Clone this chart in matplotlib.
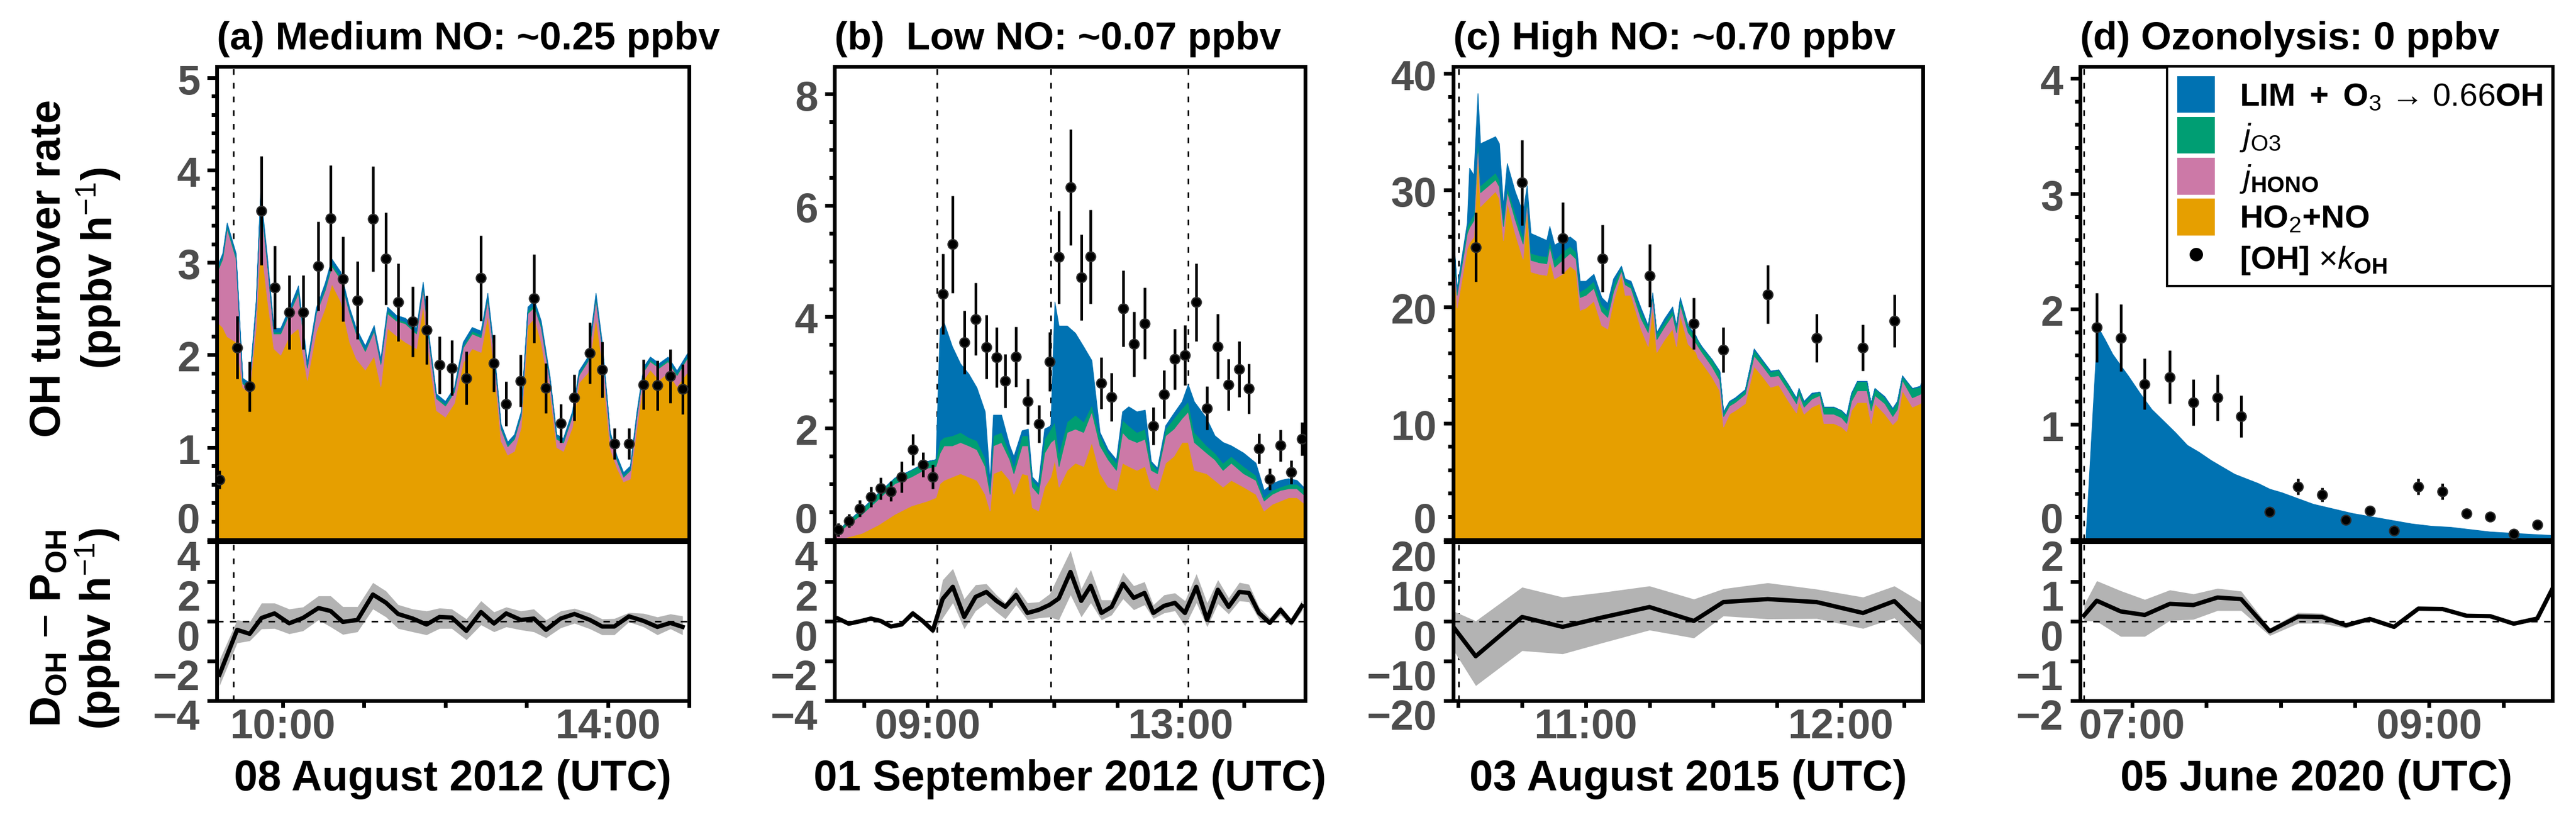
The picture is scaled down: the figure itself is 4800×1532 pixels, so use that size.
import matplotlib
matplotlib.use("Agg")
import matplotlib.pyplot as plt
import matplotlib.transforms as mtransforms
from matplotlib.patches import Patch
from matplotlib.lines import Line2D
from matplotlib.ticker import MultipleLocator

plt.rcParams['font.family'] = ['Liberation Sans', 'DejaVu Sans']
plt.rcParams['mathtext.fontset'] = 'custom'
plt.rcParams['mathtext.rm'] = 'Liberation Sans'
plt.rcParams['mathtext.bf'] = 'Liberation Sans:bold'
plt.rcParams['mathtext.it'] = 'Liberation Sans:italic'
plt.rcParams['mathtext.sf'] = 'Liberation Sans'

# ---------------------------------------------------------------- data
# times are decimal hours (UTC)

# ---- (a) Medium NO, 08 August 2012
a_t_area = [9.19, 9.26, 9.315, 9.425, 9.507, 9.589, 9.671, 9.726, 9.808, 9.89, 9.973, 10.082, 10.192,
            10.301, 10.411, 10.521, 10.603, 10.712, 10.822, 10.904, 11.014, 11.123, 11.205, 11.288,
            11.397, 11.507, 11.644, 11.726, 11.808, 11.89, 12.0, 12.11, 12.219, 12.329, 12.438,
            12.521, 12.603, 12.685, 12.767, 12.849, 12.932, 13.014, 13.096, 13.178, 13.288, 13.37,
            13.452, 13.562, 13.644, 13.753, 13.852, 13.929, 14.027, 14.11, 14.192, 14.274, 14.356,
            14.438, 14.521, 14.63, 14.74, 14.849, 15.0]
a_ho2no = [2.36, 2.3, 2.2, 2.14, 1.65, 1.59, 2.3, 3.25, 2.62, 2.07, 2.0, 2.21, 2.29, 1.73, 2.25, 2.51,
           2.77, 2.58, 2.14, 1.96, 1.84, 1.99, 1.66, 2.29, 2.21, 2.14, 2.07, 2.54, 1.92, 1.4, 1.33,
           1.48, 1.92, 2.07, 2.03, 2.43, 1.84, 1.07, 0.92, 0.96, 1.22, 2.32, 2.4, 2.14, 1.59, 1.0,
           0.96, 1.22, 1.7, 1.81, 2.4, 1.92, 0.99, 0.78, 0.63, 0.66, 1.22, 1.73, 1.84, 1.73, 1.81,
           1.66, 1.84]
a_jhono = [0.53, 0.74, 1.17, 0.9, 0.04, 0.05, 0.22, 0.43, 0.38, 0.16, 0.23, 0.24, 0.38, 0.13, 0.2,
           0.19, 0.19, 0.24, 0.31, 0.27, 0.2, 0.27, 0.24, 0.16, 0.16, 0.2, 0.16, 0.18, 0.16, 0.13,
           0.12, 0.12, 0.16, 0.16, 0.16, 0.17, 0.13, 0.13, 0.09, 0.13, 0.12, 0.13, 0.12, 0.16, 0.12,
           0.09, 0.09, 0.12, 0.08, 0.12, 0.2, 0.16, 0.13, 0.08, 0.05, 0.09, 0.12, 0.09, 0.09, 0.13,
           0.12, 0.12, 0.16]
a_jo3 = [0.03, 0.03, 0.03, 0.03, 0.02, 0.02, 0.02, 0.03, 0.03, 0.02, 0.02, 0.02, 0.03, 0.02, 0.02,
         0.03, 0.03, 0.03, 0.02, 0.02, 0.02, 0.02, 0.02, 0.03, 0.02, 0.02, 0.02, 0.03, 0.02, 0.02,
         0.02, 0.02, 0.02, 0.03, 0.03, 0.03, 0.02, 0.02, 0.02, 0.02, 0.02, 0.03, 0.03, 0.03, 0.02,
         0.02, 0.02, 0.02, 0.02, 0.02, 0.03, 0.02, 0.02, 0.02, 0.02, 0.02, 0.02, 0.02, 0.02, 0.02,
         0.02, 0.02, 0.02]
a_lim = [0.03, 0.03, 0.03, 0.03, 0.04, 0.04, 0.04, 0.06, 0.05, 0.04, 0.04, 0.04, 0.05, 0.04, 0.04,
         0.05, 0.05, 0.05, 0.04, 0.04, 0.04, 0.04, 0.04, 0.04, 0.04, 0.04, 0.04, 0.04, 0.04, 0.03,
         0.03, 0.03, 0.04, 0.04, 0.04, 0.04, 0.04, 0.03, 0.03, 0.03, 0.03, 0.04, 0.04, 0.04, 0.03,
         0.03, 0.03, 0.03, 0.03, 0.03, 0.04, 0.04, 0.03, 0.03, 0.03, 0.03, 0.03, 0.03, 0.03, 0.03,
         0.03, 0.03, 0.03]
a_t_pts = [9.222, 9.44, 9.595, 9.74, 9.90, 10.08, 10.25, 10.44, 10.59, 10.74, 10.92, 11.11, 11.27,
           11.42, 11.6, 11.77, 11.93, 12.08, 12.26, 12.44, 12.6, 12.75, 12.93, 13.09, 13.24, 13.42,
           13.59, 13.78, 13.93, 14.08, 14.26, 14.44, 14.61, 14.77, 14.92]
a_oh = [0.65, 2.08, 1.66, 3.56, 2.73, 2.46, 2.46, 2.96, 3.48, 2.82, 2.59, 3.47, 3.04, 2.57, 2.36,
        2.27, 1.89, 1.86, 1.75, 2.83, 1.91, 1.47, 1.72, 2.61, 1.64, 1.26, 1.54, 2.02, 1.84, 1.04,
        1.04, 1.68, 1.67, 1.77, 1.63]
a_oh_err = [0.1, 0.34, 0.27, 0.59, 0.45, 0.4, 0.4, 0.48, 0.57, 0.46, 0.42, 0.57, 0.5, 0.42, 0.38,
            0.37, 0.31, 0.3, 0.29, 0.46, 0.31, 0.24, 0.28, 0.48, 0.27, 0.21, 0.25, 0.33, 0.3, 0.17,
            0.17, 0.27, 0.27, 0.29, 0.27]
a_t_dp = a_t_pts
a_dp = [-2.69, -0.43, -0.63, 0.17, 0.4, -0.1, 0.17, 0.67, 0.52, -0.03, 0.07, 1.35, 0.94, 0.37, 0.14,
        -0.16, 0.22, 0.19, -0.48, 0.47, -0.11, 0.4, 0.07, 0.14, -0.43, 0.14, 0.37, 0.07, -0.26,
        -0.26, 0.25, 0.02, -0.28, -0.08, -0.28]
a_dp_hi = [-1.94, 0.07, -0.03, 0.92, 0.92, 0.62, 0.72, 1.28, 1.28, 0.74, 0.74, 1.95, 1.53, 0.84,
           0.62, 0.52, 0.67, 0.62, 0.12, 1.03, 0.47, 0.72, 0.52, 0.62, 0.07, 0.52, 0.65, 0.42, 0.12,
           0.14, 0.44, 0.4, 0.22, 0.37, 0.27]
a_dp_lo = [-3.25, -1.09, -0.98, -0.38, -0.36, -0.63, -0.48, 0.07, -0.28, -0.66, -0.53, 0.62, 0.22,
           -0.36, -0.53, -0.68, -0.36, -0.36, -0.93, -0.18, -0.53, -0.28, -0.43, -0.53, -0.83,
           -0.33, -0.1, -0.38, -0.68, -0.68, -0.03, -0.28, -0.68, -0.38, -0.68]
a_vlines = [9.397]

# ---- (b) Low NO, 01 September 2012
b_t_area = [7.528, 7.703, 7.962, 8.222, 8.481, 8.741, 9.0, 9.13, 9.195, 9.259, 9.389, 9.519, 9.649,
            9.778, 9.908, 9.986, 10.038, 10.167, 10.297, 10.362, 10.492, 10.589, 10.654, 10.751,
            10.848, 10.946, 11.01, 11.075, 11.205, 11.335, 11.464, 11.594, 11.724, 11.853, 11.983,
            12.08, 12.178, 12.307, 12.437, 12.534, 12.632, 12.761, 12.891, 13.021, 13.118, 13.215,
            13.41, 13.54, 13.669, 13.799, 13.994, 14.188, 14.318, 14.447, 14.577, 14.707, 14.837,
            14.966]
b_ho2no = [0.02, 0.04, 0.12, 0.27, 0.46, 0.61, 0.70, 0.76, 1.01, 1.07, 1.13, 1.19, 1.13, 1.07, 0.82,
           0.52, 1.19, 1.25, 1.07, 0.82, 1.19, 1.16, 0.58, 0.52, 0.95, 1.13, 1.44, 0.95, 1.25, 1.38,
           1.32, 1.75, 1.19, 0.95, 0.89, 1.38, 1.32, 1.25, 1.32, 0.95, 0.89, 1.38, 1.50, 1.75, 1.75,
           1.25, 1.19, 1.07, 0.95, 1.07, 0.95, 0.82, 0.52, 0.64, 0.70, 0.76, 0.76, 0.64]
b_jhono = [0.04, 0.20, 0.34, 0.46, 0.55, 0.52, 0.59, 0.56, 0.55, 0.62, 0.56, 0.56, 0.56, 0.55, 0.50,
           0.30, 0.50, 0.50, 0.37, 0.37, 0.50, 0.53, 0.37, 0.30, 0.61, 0.62, 0.37, 0.37, 0.68, 0.61,
           0.61, 0.55, 0.50, 0.49, 0.36, 0.55, 0.49, 0.50, 0.49, 0.30, 0.30, 0.49, 0.49, 0.43, 0.55,
           0.50, 0.37, 0.37, 0.30, 0.31, 0.24, 0.25, 0.18, 0.18, 0.19, 0.16, 0.16, 0.15]
b_jo3 = [0.03, 0.06, 0.09, 0.11, 0.10, 0.12, 0.12, 0.12, 0.22, 0.15, 0.18, 0.18, 0.15, 0.16, 0.15,
         0.13, 0.18, 0.18, 0.12, 0.13, 0.18, 0.18, 0.12, 0.13, 0.25, 0.24, 0.31, 0.24, 0.19, 0.25,
         0.19, 0.12, 0.18, 0.12, 0.13, 0.22, 0.24, 0.18, 0.18, 0.13, 0.06, 0.12, 0.19, 0.18, 0.18,
         0.18, 0.13, 0.12, 0.13, 0.12, 0.13, 0.09, 0.06, 0.07, 0.06, 0.08, 0.08, 0.10]
b_lim = [0.0, 0.0, 0.0, 0.0, 0.0, 0.0, 0.0, 0.0, 2.00, 2.06, 1.60, 1.23, 1.14, 0.95, 0.83, 0.12, 0.37,
         0.31, 0.13, 0.18, 0.09, 0.12, 0.06, 0.06, 0.18, 0.06, 2.15, 2.28, 1.72, 1.47, 1.35, 0.80,
         0.06, 0.06, 0.06, 0.15, 0.34, 0.37, 0.34, 0.03, 0.04, 0.06, 0.09, 0.12, 0.31, 0.55, 0.49,
         0.31, 0.37, 0.19, 0.24, 0.22, 0.13, 0.12, 0.12, 0.10, 0.07, 0.03]
b_t_pts = [7.586, 7.755, 7.93, 8.105, 8.26, 8.42, 8.59, 8.767, 8.93, 9.084, 9.24, 9.40, 9.58, 9.76,
           9.93, 10.09, 10.23, 10.4, 10.58, 10.76, 10.93, 11.075, 11.26, 11.43, 11.58, 11.75, 11.91,
           12.09, 12.26, 12.43, 12.57, 12.74, 12.91, 13.07, 13.25, 13.42, 13.59, 13.76, 13.93, 14.08,
           14.24, 14.41, 14.58, 14.75, 14.92]
b_oh = [0.18, 0.34, 0.56, 0.77, 0.92, 0.87, 1.13, 1.62, 1.35, 1.13, 4.41, 5.3, 3.54, 3.96, 3.46,
        3.27, 2.85, 3.28, 2.48, 2.08, 3.2, 5.07, 6.32, 4.71, 5.08, 2.81, 2.56, 4.15, 3.51, 3.88, 2.04,
        2.61, 3.24, 3.31, 4.26, 2.36, 3.47, 2.78, 3.06, 2.71, 1.64, 1.09, 1.69, 1.21, 1.81]
b_oh_err = [0.12, 0.12, 0.15, 0.18, 0.2, 0.18, 0.28, 0.28, 0.22, 0.22, 0.72, 0.87, 0.57, 0.65, 0.57,
            0.54, 0.48, 0.54, 0.41, 0.34, 0.53, 0.83, 1.04, 0.77, 0.84, 0.46, 0.43, 0.68, 0.58, 0.64,
            0.34, 0.43, 0.54, 0.54, 0.7, 0.39, 0.58, 0.46, 0.5, 0.45, 0.27, 0.19, 0.28, 0.21, 0.3]
b_t_dp = b_t_pts
b_dp = [0.14, -0.12, 0.0, 0.14, 0.02, -0.26, -0.16, 0.4, 0.0, -0.46, 1.13, 1.74, 0.22, 1.23, 1.48,
        1.03, 0.73, 1.33, 0.42, 0.58, 0.83, 1.15, 2.49, 1.03, 1.79, 0.42, 0.73, 1.89, 1.18, 1.43,
        0.42, 0.78, 0.93, 0.42, 1.74, 0.07, 1.59, 0.73, 1.48, 1.43, 0.42, -0.08, 0.58, -0.06, 0.78]
b_dp_hi = [0.2, -0.05, 0.07, 0.2, 0.1, -0.16, -0.06, 0.55, 0.12, -0.3, 2.09, 2.65, 1.13, 1.84, 1.89,
           1.33, 0.93, 1.74, 0.93, 0.98, 1.38, 2.34, 3.56, 1.64, 2.6, 1.08, 1.08, 2.46, 1.79, 1.99,
           0.83, 1.33, 1.43, 1.03, 2.39, 0.93, 2.09, 1.18, 1.96, 1.86, 0.73, 0.17, 0.78, 0.12, 1.08]
b_dp_lo = [0.08, -0.2, -0.07, 0.07, -0.06, -0.36, -0.26, 0.25, -0.12, -0.62, 0.17, 0.93, -0.38, 0.53,
           0.93, 0.47, 0.12, 0.83, 0.07, 0.17, 0.22, 0.07, 1.33, 0.22, 0.93, 0.07, 0.32, 1.13, 0.58,
           0.83, 0.14, 0.42, 0.53, -0.23, 0.93, -0.28, 0.88, 0.37, 1.03, 0.98, 0.12, -0.18, 0.32,
           -0.23, 0.53]
b_vlines = [9.149, 10.946, 13.118]

# ---- (c) High NO, 03 August 2015
c_t_area = [10.48, 10.494, 10.534, 10.543, 10.56, 10.576, 10.586, 10.645, 10.66, 10.676, 10.691,
            10.722, 10.753, 10.769, 10.784, 10.815, 10.846, 10.858, 10.877, 10.907, 10.938, 10.961,
            10.977, 11.0, 11.031, 11.062, 11.085, 11.108, 11.139, 11.154, 11.177, 11.216, 11.244,
            11.262, 11.278, 11.309, 11.34, 11.355, 11.37, 11.401, 11.432, 11.44, 11.455, 11.494,
            11.525, 11.54, 11.563, 11.586, 11.625, 11.66, 11.694, 11.725, 11.756, 11.795, 11.826,
            11.836, 11.856, 11.887, 11.918, 11.934, 11.972, 12.003, 12.023, 12.042, 12.065, 12.103,
            12.119, 12.134, 12.173, 12.204, 12.222, 12.242, 12.281, 12.312, 12.323]
c_ho2no = [25.0, 19.9, 25.0, 25.5, 26.0, 33.0, 28.6, 29.9, 29.3, 25.7, 29.0, 26.3, 24.1, 28.4, 23.0,
           22.8, 22.7, 24.0, 22.4, 22.8, 23.5, 23.1, 19.7, 19.9, 20.5, 18.4, 18.1, 20.5, 22.8, 21.0,
           21.0, 18.1, 16.6, 19.9, 16.1, 17.2, 18.1, 16.6, 19.3, 16.8, 16.1, 15.6, 15.2, 14.0, 12.8,
           9.7, 10.8, 11.1, 11.7, 14.9, 14.0, 13.1, 13.3, 11.9, 10.9, 11.9, 10.8, 11.4, 11.7, 10.0,
           10.0, 9.7, 9.3, 11.1, 11.8, 11.8, 10.0, 11.7, 10.8, 9.9, 10.3, 12.8, 11.4, 11.7, 12.2]
c_jhono = [1.0, 1.1, 1.3, 1.3, 1.4, 1.0, 1.2, 1.0, 1.0, 1.2, 0.9, 1.2, 1.3, 0.6, 1.0, 1.0, 1.0, 1.2,
           1.0, 1.2, 1.1, 1.0, 1.1, 1.1, 1.1, 1.2, 1.0, 0.8, 0.3, 0.9, 0.6, 0.9, 1.2, 0.9, 1.1, 1.1,
           1.2, 1.2, 0.9, 1.0, 0.8, 1.0, 0.9, 0.9, 0.9, 0.9, 0.7, 0.7, 0.8, 0.9, 0.9, 0.9, 0.8, 0.9,
           0.8, 0.6, 0.6, 0.7, 0.7, 0.8, 0.8, 0.8, 0.7, 0.8, 1.0, 1.0, 1.1, 0.7, 0.9, 0.7, 0.9, 0.9,
           0.8, 0.8, 0.8]
c_jo3 = [0.4, 0.3, 0.6, 0.5, 0.5, 0.6, 0.6, 0.6, 0.6, 0.6, 0.4, 0.6, 0.6, 0.3, 0.6, 0.6, 0.6, 0.5,
         0.6, 0.7, 0.6, 0.6, 0.5, 0.6, 0.6, 0.6, 0.6, 0.6, 0.3, 0.3, 0.3, 0.6, 0.5, 0.2, 0.5, 0.4,
         0.4, 0.5, 0.4, 0.5, 0.5, 0.5, 0.4, 0.6, 0.7, 0.3, 0.3, 0.3, 0.3, 0.5, 0.4, 0.4, 0.5, 0.5,
         0.4, 0.5, 0.4, 0.4, 0.3, 0.6, 0.6, 0.6, 0.6, 0.6, 0.8, 0.8, 0.6, 0.6, 0.5, 0.6, 0.6, 0.3,
         0.8, 0.6, 0.9]
c_lim = [0.2, 0.3, 0.3, 4.6, 3.4, 3.7, 3.6, 3.1, 3.1, 1.2, 2.0, 1.8, 2.1, 1.1, 1.7, 1.6, 1.4, 1.2,
         1.3, 1.0, 0.8, 0.9, 0.9, 0.6, 0.6, 0.6, 0.6, 0.5, 0.1, 0.2, 0.3, 0.3, 0.1, 0.2, 0.1, 0.3,
         0.3, 0.1, 0.2, 0.1, 0.1, 0.0, 0.1, 0.0, 0.1, 0.1, 0.1, 0.1, 0.1, 0.1, 0.1, 0.1, 0.0, 0.0,
         0.1, 0.0, 0.1, 0.1, 0.0, 0.0, 0.0, 0.0, 0.1, 0.1, 0.0, 0.0, 0.0, 0.0, 0.1, 0.1, 0.1, 0.1,
         0.0, 0.1, 0.0]
c_t_pts = [10.568, 10.75, 10.909, 11.066, 11.25, 11.424, 11.54, 11.714, 11.906, 12.088, 12.211]
c_oh = [25.1, 30.64, 25.89, 24.13, 22.66, 18.55, 16.29, 21.05, 17.32, 16.5, 18.78]
c_oh_err = [2.98, 3.67, 3.08, 2.88, 2.7, 2.23, 1.95, 2.5, 2.07, 1.98, 2.25]
c_t_dp = [10.48, 10.568, 10.75, 10.909, 11.066, 11.25, 11.424, 11.54, 11.714, 11.906, 12.088, 12.211,
          12.323]
c_dp = [-1.4, -8.8, 1.1, -1.4, 1.0, 3.6, 0.1, 4.85, 5.6, 4.85, 2.1, 5.1, -1.9]
c_dp_hi = [2.6, 0.1, 8.6, 6.1, 7.3, 8.9, 5.6, 8.2, 9.7, 8.1, 6.1, 8.9, 4.6]
c_dp_lo = [-7.2, -16.2, -7.4, -8.2, -5.4, -2.2, -4.2, 1.35, 0.6, 0.7, -1.8, 0.85, -6.4]
c_vlines = [10.502]

# ---- (d) Ozonolysis, 05 June 2020
d_t_area = [6.687, 6.767, 6.815, 6.868, 6.923, 6.974, 7.053, 7.132, 7.212, 7.291, 7.371, 7.45, 7.53,
            7.609, 7.689, 7.768, 7.848, 7.927, 8.007, 8.113, 8.219, 8.351, 8.483, 8.616, 8.748,
            8.881, 9.013, 9.146, 9.278, 9.411, 9.543, 9.675, 9.829]
d_lim = [0.0, 1.85, 1.74, 1.61, 1.51, 1.42, 1.27, 1.13, 1.03, 0.93, 0.82, 0.76, 0.69, 0.63, 0.57,
         0.53, 0.49, 0.44, 0.41, 0.36, 0.31, 0.27, 0.23, 0.2, 0.17, 0.14, 0.12, 0.11, 0.09, 0.07,
         0.06, 0.05, 0.04]
d_t_pts = [6.762, 6.923, 7.085, 7.254, 7.413, 7.575, 7.734, 7.927, 8.118, 8.279, 8.44, 8.6, 8.764,
           8.928, 9.09, 9.252, 9.411, 9.57, 9.728]
d_oh = [1.84, 1.75, 1.35, 1.41, 1.19, 1.23, 1.07, 0.24, 0.46, 0.39, 0.17, 0.25, 0.08, 0.46, 0.42,
        0.23, 0.2, 0.05, 0.13]
d_oh_err = [0.3, 0.29, 0.22, 0.23, 0.2, 0.2, 0.18, 0.02, 0.07, 0.06, 0.02, 0.02, 0.02, 0.07, 0.07,
            0.02, 0.02, 0.02, 0.02]
d_t_dp = [6.677, 6.762, 6.923, 7.085, 7.254, 7.413, 7.575, 7.734, 7.927, 8.118, 8.279, 8.44, 8.6,
          8.764, 8.928, 9.09, 9.252, 9.411, 9.57, 9.728, 9.83]
d_dp = [0.15, 0.52, 0.25, 0.16, 0.44, 0.41, 0.6, 0.56, -0.25, 0.12, 0.11, -0.1, 0.06, -0.14, 0.32,
        0.31, 0.14, 0.13, -0.06, 0.07, 0.82]
d_dp_hi = [0.42, 1.02, 0.77, 0.55, 0.79, 0.69, 0.83, 0.76, -0.17, 0.22, 0.2, -0.05, 0.09, -0.11,
           0.35, 0.34, 0.17, 0.16, -0.03, 0.1, 0.85]
d_dp_lo = [0.02, 0.0, -0.38, -0.38, 0.02, 0.05, 0.27, 0.27, -0.36, -0.05, -0.05, -0.17, 0.03, -0.17,
           0.29, 0.28, 0.11, 0.1, -0.09, 0.04, 0.79]
d_vlines = [6.677]

titles = ["(a) Medium NO: ~0.25 ppbv", "(b)  Low NO: ~0.07 ppbv",
          "(c) High NO: ~0.70 ppbv", "(d) Ozonolysis: 0 ppbv"]
xlabels = ["08 August 2012 (UTC)", "01 September 2012 (UTC)",
           "03 August 2015 (UTC)", "05 June 2020 (UTC)"]
legend_labels = [r"$\mathbf{LIM\ +\ O}_{\mathrm{3}}$ → 0.66$\mathbf{OH}$",
                 r"$\mathit{j}_{\mathrm{O3}}$",
                 r"$\mathit{j}_{\mathbf{HONO}}$",
                 r"$\mathbf{HO}_{\mathrm{2}}\mathbf{+NO}$",
                 r"$\mathbf{[OH]}$ $\times\mathit{k}_{\mathbf{OH}}$"]

# ---------------------------------------------------------------- style
C_LIM, C_JO3, C_JHONO, C_HO2NO = '#0072B2', '#009E73', '#CC79A7', '#E69F00'
C_BAND, C_TICK = '#B3B3B3', '#4D4D4D'

W, H, DPI = 4800, 1532, 300
PT = 72.0 / DPI       # points per pixel
fig = plt.figure(figsize=(W / DPI, H / DPI), dpi=DPI)


def rect(l, r, t, b):
    return [l / W, 1 - b / H, (r - l) / W, (b - t) / H]


def hhmm(h):
    return "%02d:%02d" % (int(h), round((h - int(h)) * 60))


def ytext(ax, vals, zero_special):
    tr = mtransforms.blended_transform_factory(ax.transAxes, ax.transData)
    for v in vals:
        if zero_special is None:
            dy = 27
        elif v == 0:
            dy = -40
        else:
            dy = 4
        dy += 27  # centre -> baseline of digits
        off = mtransforms.ScaledTranslation(-31 / DPI, -dy / DPI, fig.dpi_scale_trans)
        s = ("%g" % v).replace('-', '\u2212')
        ax.text(0, v, s, transform=tr + off, ha='right', va='baseline', fontsize=18.5,
                fontweight='bold', color=C_TICK, clip_on=False)


def style_axes(ax):
    for sp in ax.spines.values():
        sp.set_linewidth(7 * PT)
        sp.set_color('black')


panels = [
    dict(xs=(404, 1284), xlim=(9.19, 15.0), xt=[10, 11, 12, 13, 14, 15], xl=[10, 14],
         ylu=(0, 5.12), ytu=[0, 1, 2, 3, 4, 5], mnu=0.2, yll=(-4, 4), ytl=[-4, -2, 0, 2, 4],
         area=(a_t_area, [a_ho2no, a_jhono, a_jo3, a_lim]), pts=(a_t_pts, a_oh, a_oh_err),
         dp=(a_t_dp, a_dp, a_dp_lo, a_dp_hi), vl=a_vlines),
    dict(xs=(1555, 2432), xlim=(7.53, 14.97), xt=[8, 9, 10, 11, 12, 13, 14], xl=[9, 13],
         ylu=(0, 8.49), ytu=[0, 2, 4, 6, 8], mnu=0.5, yll=(-4, 4), ytl=[-4, -2, 0, 2, 4],
         area=(b_t_area, [b_ho2no, b_jhono, b_jo3, b_lim]), pts=(b_t_pts, b_oh, b_oh_err),
         dp=(b_t_dp, b_dp, b_dp_lo, b_dp_hi), vl=b_vlines),
    dict(xs=(2708, 3583), xlim=(10.48, 12.323), xt=[10.5, 10.75, 11, 11.25, 11.5, 11.75, 12, 12.25],
         xl=[11, 12], ylu=(0, 40.6), ytu=[0, 10, 20, 30, 40], mnu=2, yll=(-20, 20),
         ytl=[-20, -10, 0, 10, 20],
         area=(c_t_area, [c_ho2no, c_jhono, c_jo3, c_lim]), pts=(c_t_pts, c_oh, c_oh_err),
         dp=(c_t_dp, c_dp, c_dp_lo, c_dp_hi), vl=c_vlines),
    dict(xs=(3876, 4756), xlim=(6.65, 9.83), xt=[7, 7.5, 8, 8.5, 9, 9.5], xl=[7, 9],
         ylu=(0, 4.1), ytu=[0, 1, 2, 3, 4], mnu=0.2, yll=(-2, 2), ytl=[-2, -1, 0, 1, 2],
         area=(d_t_area, [d_lim]), pts=(d_t_pts, d_oh, d_oh_err),
         dp=(d_t_dp, d_dp, d_dp_lo, d_dp_hi), vl=d_vlines),
]

for i, p in enumerate(panels):
    l, r = p['xs']
    axu = fig.add_axes(rect(l, r, 124, 1006))
    axl = fig.add_axes(rect(l, r, 1010, 1306))
    for ax in (axu, axl):
        style_axes(ax)
        ax.set_xlim(*p['xlim'])
        for v in p['vl']:
            ax.axvline(v, color='black', lw=3 * PT, ls=(0, (3.5, 5)), zorder=0.5)

    # ---- upper panel
    t_area, layers = p['area']
    cols = [C_HO2NO, C_JHONO, C_JO3, C_LIM] if len(layers) == 4 else [C_LIM]
    axu.stackplot(t_area, *layers, colors=cols, linewidth=0.3, edgecolor='face', zorder=1)
    tp, yp, ep = p['pts']
    axu.errorbar(tp, yp, yerr=ep, fmt='o', color='black', ms=4.3, mec='#2b2b2b', mew=0.6,
                 elinewidth=1.2, capsize=0, zorder=5)
    axu.set_ylim(*p['ylu'])
    axu.set_yticks(p['ytu'])
    axu.yaxis.set_minor_locator(MultipleLocator(p['mnu']))
    axu.tick_params(axis='y', which='major', direction='out', length=18 * PT, width=7 * PT,
                    labelleft=False, color='black')
    axu.tick_params(axis='y', which='minor', direction='out', length=10 * PT, width=7 * PT,
                    color='black')
    axu.tick_params(axis='x', which='both', bottom=False, labelbottom=False)
    ytext(axu, p['ytu'], True)

    # ---- lower panel
    td, dv, dlo, dhi = p['dp']
    axl.fill_between(td, dlo, dhi, color=C_BAND, lw=0, zorder=1)
    axl.axhline(0, color='black', lw=3 * PT, ls=(0, (4, 4)), zorder=1.5)
    axl.plot(td, dv, color='black', lw=8 * PT, zorder=3)
    axl.set_ylim(*p['yll'])
    axl.set_yticks(p['ytl'])
    axl.tick_params(axis='y', which='major', direction='out', length=18 * PT, width=7 * PT,
                    labelleft=False)
    axl.set_xticks(p['xt'])
    axl.set_xticklabels([hhmm(v) if v in p['xl'] else '' for v in p['xt']])
    axl.tick_params(axis='x', which='major', direction='out', length=13 * PT, width=7 * PT,
                    pad=0, labelsize=18.5, labelcolor=C_TICK)
    for lab in axl.get_xticklabels():
        lab.set_fontweight('bold')
    ytext(axl, p['ytl'], None)

    fig.text(l / W, 1 - 92 / H, titles[i], ha='left', va='baseline', fontsize=17.5,
             fontweight='bold')
    fig.text((l + r) / 2 / W, 1 - 1473 / H, xlabels[i], ha='center', va='baseline',
             fontsize=19, fontweight='bold')

    if i == 3:
        handles = [Patch(fc=C_LIM, ec='none'), Patch(fc=C_JO3, ec='none'),
                   Patch(fc=C_JHONO, ec='none'), Patch(fc=C_HO2NO, ec='none'),
                   Line2D([], [], marker='o', ls='none', color='black', ms=5)]
        leg = axu.legend(handles, legend_labels, loc='upper right', bbox_to_anchor=(1, 1),
                         borderaxespad=0, frameon=True, fancybox=False, edgecolor='black',
                         framealpha=1, fontsize=14.5, handlelength=1.17, handleheight=1.36,
                         handletextpad=0.75, labelspacing=0.13, borderpad=0.3)
        leg.get_frame().set_linewidth(1.0)
        leg.set_zorder(10)

# ---- y-axis titles
fig.text(112 / W, 1 - 500 / H, "OH turnover rate", rotation=90, rotation_mode='anchor',
         ha='center', va='baseline', fontsize=19, fontweight='bold')
fig.text(209 / W, 1 - 500 / H, r"(ppbv h$^{\mathrm{-1}}$)", rotation=90, rotation_mode='anchor',
         ha='center', va='baseline', fontsize=19, fontweight='bold')
fig.text(112 / W, 1 - 1171 / H, r"D$_{\mathbf{OH}}$ $-$ P$_{\mathbf{OH}}$", rotation=90,
         rotation_mode='anchor', ha='center', va='baseline', fontsize=19, fontweight='bold')
fig.text(207 / W, 1 - 1172 / H, r"(ppbv h$^{\mathrm{-1}}$)", rotation=90, rotation_mode='anchor',
         ha='center', va='baseline', fontsize=19, fontweight='bold')

fig.savefig("out.png", dpi=DPI)
